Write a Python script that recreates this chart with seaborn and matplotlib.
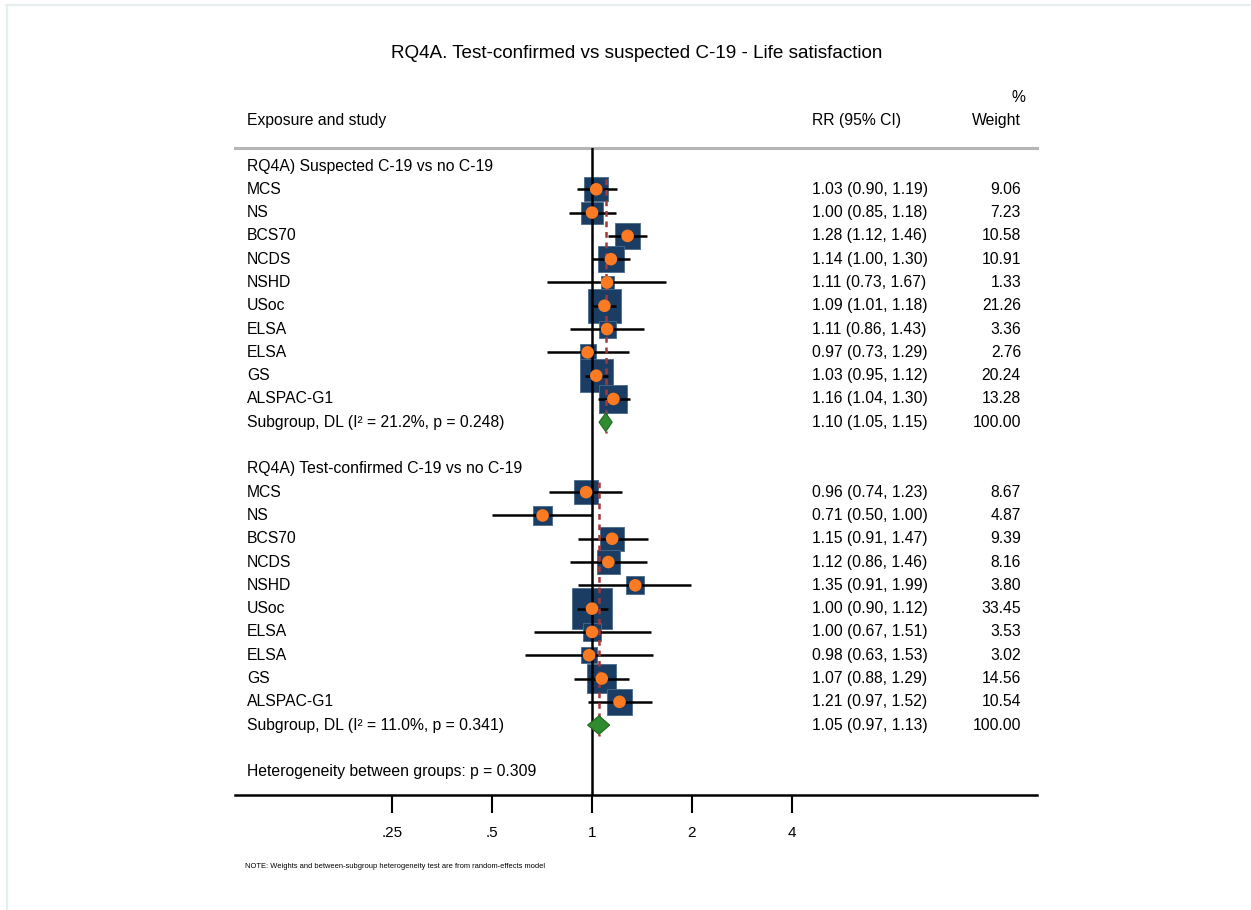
import numpy as np
import pandas as pd
import matplotlib
matplotlib.use("Agg")
import matplotlib.pyplot as plt
import matplotlib.transforms as mtransforms
from matplotlib.lines import Line2D
from matplotlib.ticker import NullLocator
import seaborn as sns

# ---------------- data ----------------
studies = ["MCS", "NS", "BCS70", "NCDS", "NSHD", "USoc", "ELSA", "ELSA", "GS", "ALSPAC-G1"]

g1_rr = [1.03, 1.00, 1.28, 1.14, 1.11, 1.09, 1.11, 0.97, 1.03, 1.16]
g1_lo = [0.90, 0.85, 1.12, 1.00, 0.73, 1.01, 0.86, 0.73, 0.95, 1.04]
g1_hi = [1.19, 1.18, 1.46, 1.30, 1.67, 1.18, 1.43, 1.29, 1.12, 1.30]
g1_w = [9.06, 7.23, 10.58, 10.91, 1.33, 21.26, 3.36, 2.76, 20.24, 13.28]

g2_rr = [0.96, 0.71, 1.15, 1.12, 1.35, 1.00, 1.00, 0.98, 1.07, 1.21]
g2_lo = [0.74, 0.50, 0.91, 0.86, 0.91, 0.90, 0.67, 0.63, 0.88, 0.97]
g2_hi = [1.23, 1.00, 1.47, 1.46, 1.99, 1.12, 1.51, 1.53, 1.29, 1.52]
g2_w = [8.67, 4.87, 9.39, 8.16, 3.80, 33.45, 3.53, 3.02, 14.56, 10.54]

group_titles = ["RQ4A) Suspected C-19 vs no C-19", "RQ4A) Test-confirmed C-19 vs no C-19"]
sub_rr = [1.10, 1.05]
sub_lo = [1.05, 0.97]
sub_hi = [1.15, 1.13]
sub_i2 = [21.2, 11.0]
sub_p = [0.248, 0.341]
sub_w = [100.00, 100.00]
het_p = 0.309

tick_vals = [0.25, 0.5, 1, 2, 4]
tick_labels = [".25", ".5", "1", "2", "4"]

title = "RQ4A. Test-confirmed vs suspected C-19 - Life satisfaction"
note = "NOTE: Weights and between-subgroup heterogeneity test are from random-effects model"

# ---------------- layout ----------------
sns.set_theme(style="white")
plt.rcParams["font.family"] = ["Liberation Sans", "DejaVu Sans"]
plt.rcParams["text.color"] = "black"
plt.rcParams["xtick.color"] = "black"

W, H = 1251, 910
fig = plt.figure(figsize=(W / 100, H / 100), dpi=100)
fig.patch.set_facecolor("white")
ax = fig.add_axes([235 / W, (H - 795) / H, (1037 - 235) / W, (795 - 148) / H])

# row positions
g1_header = 0
g1_rows = np.arange(1, 11)
g1_sub = 11
g2_header = 13
g2_rows = np.arange(14, 24)
g2_sub = 24
het_row = 26

df = pd.DataFrame({
    "study": studies + studies,
    "rr": g1_rr + g2_rr,
    "lo": g1_lo + g2_lo,
    "hi": g1_hi + g2_hi,
    "w": g1_w + g2_w,
    "row": np.concatenate([g1_rows, g2_rows]),
})

ax.set_xscale("log", base=2)
ax.set_xlim(2 ** -3.57, 2 ** 4.45)
ax.set_ylim(27.0, -0.773)

# confidence intervals
ax.hlines(df["row"], df["lo"], df["hi"], color="black", lw=1.8, zorder=3)

# weight boxes
side_px = 6.0 * np.sqrt(df["w"].to_numpy()) + 6.0
box_s = (side_px * 0.72) ** 2
sns.scatterplot(x=df["rr"].to_numpy(), y=df["row"].to_numpy(), marker="s", s=box_s,
                color="#1b3d63", edgecolor="#4a6b8c", linewidth=0.6, zorder=2,
                ax=ax, legend=False)

# null line
ax.axvline(1, color="black", lw=1.8, zorder=3)

# subgroup dashed lines + diamonds
for hdr, sub, est, lo, hi in zip([g1_header, g2_header], [g1_sub, g2_sub], sub_rr, sub_lo, sub_hi):
    ax.vlines(est, hdr + 0.55, sub + 0.45, color="#a3383c", lw=1.8,
              linestyles=(0, (2.3, 1.9)), zorder=3.5)
    h = 0.4
    ax.fill([lo, est, hi, est], [sub, sub - h, sub, sub + h], facecolor="#2e8b2e",
            edgecolor="#1e6a1e", lw=0.8, zorder=5)

# point estimates
sns.scatterplot(x=df["rr"].to_numpy(), y=df["row"].to_numpy(), marker="o", s=82,
                color="#fb7a22", edgecolor="none", zorder=4, ax=ax, legend=False)

# axes styling
ax.set_xticks(tick_vals)
ax.set_xticklabels(tick_labels)
ax.xaxis.set_minor_locator(NullLocator())
ax.set_yticks([])
ax.set_xlabel("")
ax.set_ylabel("")
ax.tick_params(axis="x", which="major", direction="out", length=13, width=1.5,
               pad=9, labelsize=11, colors="black", bottom=True)
for s in ["left", "right"]:
    ax.spines[s].set_visible(False)
ax.spines["bottom"].set_color("black")
ax.spines["bottom"].set_linewidth(1.8)
ax.spines["top"].set_color("#b5b5b5")
ax.spines["top"].set_linewidth(2.2)
ax.set_facecolor("white")

# text columns
trans = mtransforms.blended_transform_factory(fig.transFigure, ax.transData)
x_lab = 247 / W
x_rr = 812 / W
x_w = 1021 / W
fs = 11.3
tc = "black"

ax.text(x_lab, -1.97, "Exposure and study", transform=trans, ha="left", va="center", fontsize=fs, color=tc)
ax.text(x_rr, -1.97, "RR (95% CI)", transform=trans, ha="left", va="center", fontsize=fs, color=tc)
ax.text(x_w, -1.97, "Weight", transform=trans, ha="right", va="center", fontsize=fs, color=tc)
ax.text(1025 / W, -2.96, "%", transform=trans, ha="right", va="center", fontsize=fs, color=tc)

groups = [
    (g1_header, g1_rows, g1_rr, g1_lo, g1_hi, g1_w, g1_sub),
    (g2_header, g2_rows, g2_rr, g2_lo, g2_hi, g2_w, g2_sub),
]
for gi, (hdr, rows, rr, lo, hi, w, sub) in enumerate(groups):
    ax.text(x_lab, hdr, group_titles[gi], transform=trans, ha="left", va="center", fontsize=fs, color=tc)
    for r, name, e, l, u, ww in zip(rows, studies, rr, lo, hi, w):
        ax.text(x_lab, r, name, transform=trans, ha="left", va="center", fontsize=fs, color=tc)
        ax.text(x_rr, r, f"{e:.2f} ({l:.2f}, {u:.2f})", transform=trans, ha="left",
                va="center", fontsize=fs, color=tc)
        ax.text(x_w, r, f"{ww:.2f}", transform=trans, ha="right", va="center", fontsize=fs, color=tc)
    ax.text(x_lab, sub, f"Subgroup, DL (I\u00b2 = {sub_i2[gi]:.1f}%, p = {sub_p[gi]:.3f})",
            transform=trans, ha="left", va="center", fontsize=fs, color=tc)
    ax.text(x_rr, sub, f"{sub_rr[gi]:.2f} ({sub_lo[gi]:.2f}, {sub_hi[gi]:.2f})",
            transform=trans, ha="left", va="center", fontsize=fs, color=tc)
    ax.text(x_w, sub, f"{sub_w[gi]:.2f}", transform=trans, ha="right", va="center", fontsize=fs, color=tc)

ax.text(x_lab, het_row, f"Heterogeneity between groups: p = {het_p:.3f}", transform=trans,
        ha="left", va="center", fontsize=fs, color=tc)

fig.text(637 / W, 1 - 53 / H, title, ha="center", va="center", fontsize=13.6, color=tc)
fig.text(245 / W, 1 - 866 / H, note, ha="left", va="center", fontsize=5.4, color=tc,
         family=["Liberation Sans Narrow", "Liberation Sans", "DejaVu Sans"])

# light frame of the screenshot
fig.add_artist(Line2D([7 / W, 7 / W], [0, 1 - 5 / H], color="#e6eef0", lw=1.6))
fig.add_artist(Line2D([6 / W, 1], [1 - 5 / H, 1 - 5 / H], color="#e6eef0", lw=1.6))

fig.savefig("out.png", dpi=100, facecolor="white")
